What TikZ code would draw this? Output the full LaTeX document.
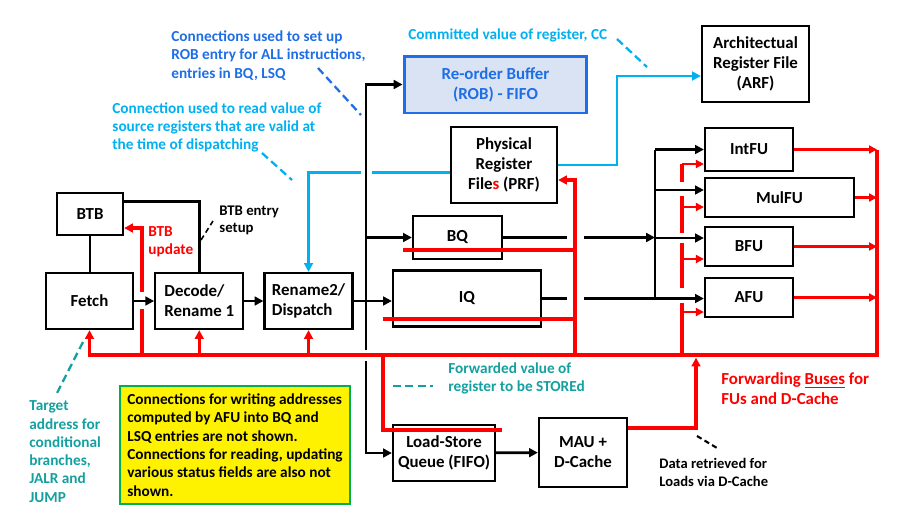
\documentclass[tikz,border=0pt]{standalone}
\usepackage{fontspec}
\setmainfont{Carlito}
\usepackage{tikz}
\usetikzlibrary{shapes,arrows,arrows.meta}
\usetikzlibrary{positioning}

\definecolor{robblue}{RGB}{30,110,230}
\definecolor{robfill}{RGB}{218,227,243}
\definecolor{cyanl}{RGB}{0,176,240}
\definecolor{tealc}{RGB}{20,160,160}
\definecolor{notegreen}{RGB}{0,176,80}

\begin{document}
\begin{tikzpicture}[>={Triangle[length=5pt,width=5pt]}, x=0.02cm, y=-0.02cm, line width=1.6pt,
    font=\bfseries\fontsize{9.6}{11.4}\selectfont]
\tikzstyle{block}=[draw, rectangle, line width=1.3pt, align=center, inner sep=1pt]
\tikzstyle{note}=[align=left, anchor=west, inner sep=0pt, font=\bfseries\fontsize{8.7}{10.4}\selectfont]
\tikzstyle{fwd}=[red, line width=1.8pt]
\tikzstyle{fwdtap}=[red, line width=1.3pt, >={Triangle[length=4.5pt,width=4.5pt]}]
\tikzstyle{rd}=[cyanl, line width=1.5pt]
\tikzstyle{hint}=[line width=1.3pt, dash pattern=on 4.5pt off 2.5pt]

\useasboundingbox (0,0) rectangle (904,522);

% front end
\node[block, minimum width=1.32cm, minimum height=0.84cm] (btb)   at (90,214)    {BTB};
\node[block, minimum width=1.74cm, minimum height=1.12cm] (fetch) at (89.5,301)  {Fetch};
\node[block, align=left, minimum width=1.76cm, minimum height=1.12cm] (decode) [right=0.4cm of fetch]  {Decode/\\Rename 1};
\node[block, align=left, minimum width=1.76cm, minimum height=1.12cm] (rename) [right=0.38cm of decode] {Rename2/\\Dispatch};

% queues and register files
\node[block, draw=robblue, fill=robfill, text=robblue, line width=1.7pt,
      minimum width=3.66cm, minimum height=1.14cm] (rob) at (495.5,84.5) {Re-order Buffer\\(ROB) - FIFO};
\node[block, minimum width=2.12cm, minimum height=1.52cm] (prf) at (504,165)    {Physical\\Register\\File\textcolor{red}{s} (PRF)};
\node[block, minimum width=1.78cm, minimum height=0.86cm] (bq)  at (457.5,237.5) {BQ};
\node[block, minimum width=2.96cm, minimum height=1.12cm] (iq)  at (467,298.5)   {IQ};
\node[block, minimum width=2.14cm, minimum height=1.52cm] (arf) at (755.5,64)    {Architectual\\Register File\\(ARF)};
\node[block, minimum width=2.04cm, minimum height=1.12cm] (lsq) at (444,453)     {Load-Store\\Queue (FIFO)};
\node[block, minimum width=1.76cm, minimum height=1.38cm] (mau) at (583,452.5)   {MAU +\\D-Cache};

% functional units
\node[block, minimum width=1.76cm, minimum height=0.86cm] (intfu) at (749,149.5) {IntFU};
\node[block, minimum width=2.98cm, minimum height=0.78cm] (mulfu) at (779.5,197.5) {MulFU};
\node[block, minimum width=1.76cm, minimum height=0.78cm] (bfu)   at (749,246.5) {BFU};
\node[block, minimum width=1.76cm, minimum height=0.78cm] (afu)   at (749,297.5) {AFU};

% notes
\node[draw=notegreen, fill=yellow, line width=1.3pt, minimum width=4.6cm, minimum height=2.36cm,
      align=left, font=\bfseries\fontsize{8.7}{10.4}\selectfont] (memo) at (235,445)
      {Connections for writing addresses\\computed by AFU into BQ and\\LSQ entries are not shown.\\Connections for reading, updating\\various status fields are also not\\shown.};
\node[note, text=robblue] (robnote)  at (170,55.5)  {Connections used to set up\\ROB entry for ALL instructions,\\entries in BQ, LSQ};
\node[note, text=cyanl]   (dispnote) at (111,127.5) {Connection used to read value of\\source registers that are valid at\\the time of dispatching};
\node[note, text=cyanl]   (ccnote)   at (407,35)    {Committed value of register, CC};
\node[note, text=red]     (btbnote)  at (147,242)   {BTB\\update};
\node[note, font=\bfseries\fontsize{8.4}{10}\selectfont] (setupnote) at (218,220.5) {BTB entry\\setup};
\node[note, text=tealc]   (stnote)   at (447,378.5) {Forwarded value of\\register to be STOREd};
\node[note, text=tealc]   (tgtnote)  at (28,451.5)  {Target\\address for\\conditional\\branches,\\JALR and\\JUMP};
\node[note, font=\bfseries\fontsize{8.3}{10.3}\selectfont] (dcnote) at (658,472.5) {Data retrieved for\\Loads via D-Cache};
\node[note, text=red, font=\bfseries\fontsize{9.6}{11.4}\selectfont] (fwdnote) at (720,389) {Forwarding \underline{Buses} for\\FUs and D-Cache};

% bus points
\coordinate (dtop) at (366,350);
\coordinate (dbot) at (366,361);
\coordinate (cut1) at (567,0);
\coordinate (cut2) at (584,0);
\coordinate (fbt)  at (655,149.5);
\coordinate (rbr)  at (877,355);
\coordinate (bu)   at (142,355);
\coordinate (pf)   at (575,355);
\coordinate (ff)   at (682,355);
\coordinate (lr)   at (383,355);
\coordinate (md)   at (696,355);
\coordinate (bqr)  at (403,250);
\coordinate (iqr)  at (383,319);
\coordinate (cbend) at (617,76);

% black paths
\draw (btb.south) -- (btb.south |- fetch.north);
\draw (btb.north east) ++(0,10) -| (decode.north);
\path[->] (fetch) edge (decode)
          (decode) edge (rename)
          (lsq) edge (mau);
\draw[->] (rename.east) -- (rename.east -| iq.west);
\draw[->] (dtop) |- (rob.west);
\draw[->] (dtop |- bq.west) -- (bq.west);
\draw[->] (dbot) |- (lsq.west);
\draw (bq.east) -- (bq.east -| cut1);
\draw[->] (bq.east -| cut2) -- (bq.east -| fbt);
\draw (iq.east) -- (iq.east -| cut1);
\draw[->] (iq.east -| cut2) -- (iq.east -| afu.west);
\draw (fbt) -- (fbt |- iq.east);
\draw[->] (fbt) -- (intfu.west);
\draw[->] (fbt |- 0,190) -- (mulfu.west |- 0,190);
\draw[->] (fbt |- 0,238) -- (bfu.west |- 0,238);

% forwarding buses
\draw[fwd,->] (intfu.east -| rbr) -- (rbr) -| (fetch.south);
\foreach \u in {intfu,mulfu,bfu,afu}
    \draw[fwdtap,->] (\u.east) -- (\u.east -| rbr);
\draw[fwd,->] (decode.south |- rbr) -- (decode.south);
\draw[fwd,->] (rename.south |- rbr) -- (rename.south);
\draw[fwd] (bu) -- (bu |- 0,309);
\draw[fwd,->] (bu |- 0,292) |- ([yshift=-0.28cm]btb.east);
\draw[fwd,->] (pf) |- ([yshift=-0.3cm]prf.east);
\draw[fwd] (bqr) -- (pf |- bqr);
\draw[fwd] (iqr) -- (pf |- iqr);
\draw[fwd] (lr) |- (502,430);
\draw[fwd,->,shorten >=1.5pt] ([yshift=0.49cm]mau.east) -| (md);
\draw[fwd] (ff) -- (ff |- 0,303);
\draw[fwd] (ff |- 0,288) -- (ff |- 0,243);
\draw[fwd] (ff |- 0,233) -- (ff |- 0,196);
\draw[fwd] (ff |- 0,182) -- (ff |- 0,164);
\draw[fwdtap,->] (ff |- 0,164) -- (intfu.west |- 0,164);
\draw[fwdtap,->] (ff |- 0,207) -- (mulfu.west |- 0,207);
\draw[fwdtap,->] (ff |- 0,259) -- (bfu.west |- 0,259);
\draw[fwdtap,->] (ff |- 0,312) -- (afu.west |- 0,312);

% register reads
\draw[rd] ([yshift=-0.15cm]prf.west) -- (372,172.5);
\draw[rd,->] (361,172.5) -| (rename.north);
\draw[rd,->] (prf.east) -| (cbend) -- (cbend -| arf.west);

% pointers
\draw[hint, robblue] (318,68) -- (361,115);
\draw[hint, cyanl] (262,153) -- (292,180);
\draw[hint, cyanl] (617,39) -- (647,67);
\draw[hint, line width=0.9pt, dash pattern=on 3pt off 2pt] (201,240) -- (213,221);
\draw[hint, tealc] (83,342) -- (56,395);
\draw[hint, tealc] (393,386) -- (433,386);
\draw[hint, line width=1.2pt, dash pattern=on 3pt off 2pt] (697,436) -- (717,448);
\end{tikzpicture}
\end{document}
